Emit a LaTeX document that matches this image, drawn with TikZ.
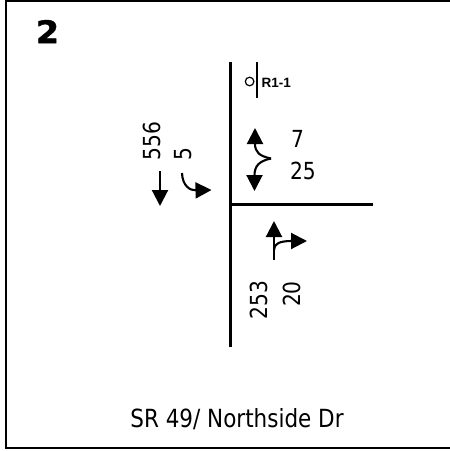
\documentclass[tikz,border=0pt]{standalone}
\usepackage{fontspec}
\usetikzlibrary{arrows.meta}
\newfontfamily\tah[FakeStretch=0.86]{DejaVu Sans}
\newfontfamily\heavy[BoldFeatures={FakeBold=1.6,FakeStretch=1.08}]{DejaVu Sans}
\newfontfamily\signfont{Liberation Sans}
\begin{document}
\begin{tikzpicture}[x=1pt,y=-1pt,
  road/.style={line width=3pt},
  frame/.style={line width=2pt},
  mv/.style={line width=2.1pt,-{Triangle[width=16pt,length=16pt]}},
  vol/.style={font=\tah\fontsize{23.5}{28}\selectfont,inner sep=0pt},
  volr/.style={vol,rotate=90}]
\useasboundingbox (0,0) rectangle (450,451);
% frame
\draw[frame] (450,0.8) -- (5.8,0.8) -- (5.8,448) -- (450,448);
% roads
\coordinate (rn) at (230.8,62);
\coordinate (rs) at (230.8,347);
\coordinate (rc) at (230.8,204.3);
\coordinate (re) at (373,204.3);
\draw[road] (rn) -- (rs);
\draw[road] (rc) -- (re);
% sign
\coordinate (st) at (257,62);
\coordinate (sb) at (257,98);
\draw[line width=1.4pt] (st) -- (sb);
\draw[line width=1.2pt] (249.6,81.5) circle (4.3);
\node[font=\signfont\bfseries\fontsize{13.5}{16}\selectfont,anchor=west,inner sep=0pt] (sign) at (261.5,82.5) {R1-1};
% title
\node[font=\heavy\bfseries\fontsize{31}{34}\selectfont,inner sep=0pt] (title) at (47.5,31.5) {2};
% southbound movements
\coordinate (sbt0) at (160,171);
\coordinate (sbt1) at (160,206);
\draw[mv] (sbt0) -- (sbt1);
\coordinate (sbr0) at (182,173);
\coordinate (sbr1) at (211.5,190);
\draw[mv] (sbr0) .. controls (182.5,186) and (190,190.5) .. (sbr1);
\node[volr] (v556) at (151.5,141) {556};
\node[volr] (v5) at (183,154) {5};
% westbound movements
\coordinate (wj) at (271,158.5);
\coordinate (wl) at (255,128);
\coordinate (wr) at (254.5,191);
\draw[mv] (wj) .. controls (259,156) and (255,152) .. (wl);
\draw[mv] (wj) .. controls (259,161) and (254.5,166) .. (wr);
\node[vol] (v7) at (297.5,138.5) {7};
\node[vol] (v25) at (303,171) {25};
% northbound movements
\coordinate (nt0) at (274,260);
\coordinate (nt1) at (274,221);
\draw[mv] (nt0) -- (nt1);
\coordinate (nr0) at (274,250);
\coordinate (nr1) at (307,241);
\draw[mv] (nr0) .. controls (274,244) and (279,241) .. (nr1);
\node[volr] (v253) at (259,300) {253};
\node[volr] (v20) at (291.5,294) {20};
% caption
\node[font=\tah\fontsize{25}{30}\selectfont,inner sep=0pt] (cap) at (237,419) {SR 49/ Northside Dr};
\end{tikzpicture}
\end{document}
